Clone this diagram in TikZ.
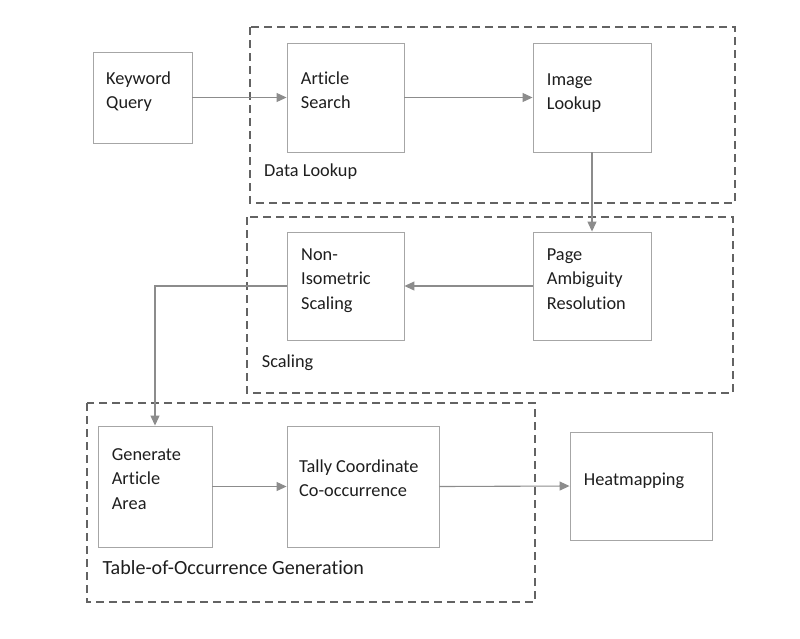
\documentclass[tikz,border=0pt]{standalone}
\usepackage{fontspec}
\setmainfont{Carlito}[Ligatures={NoCommon}]
\usetikzlibrary{arrows.meta}
\definecolor{boxgray}{HTML}{A6A6A6}
\definecolor{dashgray}{HTML}{636363}
\definecolor{arrgray}{HTML}{8C8C8C}
\definecolor{txtgray}{HTML}{1E1E1E}
\newcommand{\mylines}[1]{\begin{tabular}[t]{@{}l@{}}#1\end{tabular}}
\tikzset{
  procbox/.style={draw=boxgray, line width=0.9pt, fill=white},
  groupbox/.style={draw=dashgray, line width=1.8pt, dash pattern=on 8pt off 5pt},
  lbl/.style={anchor=base west, inner sep=0pt, text=txtgray, font=\fontsize{18.3}{24.5}\selectfont},
  conn/.style={draw=arrgray, line width=1.1pt, -{Triangle[length=10pt,width=9pt]}}
}
\begin{document}
\begin{tikzpicture}[x=1pt,y=-1pt]
\useasboundingbox (0,0) rectangle (800,638);
% group frames
\draw[groupbox] (250,27) rectangle (735,203);
\draw[groupbox] (247,217) rectangle (733,393);
\draw[groupbox] (87,403) rectangle (535,602);
% boxes
\node[procbox, minimum width=99pt, minimum height=91pt] (kq) at (142.5,97.5) {};
\node[procbox, minimum width=117pt, minimum height=109pt] (as) at (345.5,97.5) {};
\node[procbox, minimum width=118pt, minimum height=109pt] (il) at (592,97.5) {};
\node[procbox, minimum width=117pt, minimum height=108pt] (na) at (345.5,286) {};
\node[procbox, minimum width=118pt, minimum height=108pt] (pa) at (592,286) {};
\node[procbox, minimum width=114pt, minimum height=121pt] (ga) at (155,486.5) {};
\node[procbox, minimum width=152pt, minimum height=121pt] (tc) at (363,486.5) {};
\node[procbox, minimum width=142pt, minimum height=108pt] (hm) at (641,486) {};
% texts
\node[lbl] (kqt) at (106,84) {\mylines{Keyword\\Query}};
\node[lbl] (ast) at (300.7,84.3) {\mylines{Article\\Search}};
\node[lbl] (ilt) at (546.7,85) {\mylines{Image\\Lookup}};
\node[lbl] (dlt) at (264,176) {Data Lookup};
\node[lbl] (nat) at (301,260) {\mylines{Non-\\Isometric\\Scaling}};
\node[lbl] (pat) at (546.7,260) {\mylines{Page\\Ambiguity\\Resolution}};
\node[lbl] (sct) at (261.7,367) {Scaling};
\node[lbl] (gat) at (111.7,460) {\mylines{Generate\\Article\\Area}};
\node[lbl] (tct) at (299,472) {\mylines{Tally Coordinate\\Co-occurrence}};
\node[lbl] (hmt) at (583.7,485) {Heatmapping};
\node[lbl, font=\fontsize{20.1}{24.5}\selectfont] (tot) at (102.3,574) {Table-of-Occurrence Generation};
% connectors
\draw[conn] (kq.east) -- (as.west);
\draw[conn] (as.east) -- (il.west);
\draw[conn] (il.south) -- (pa.north);
\draw[conn] (pa.west) -- (na.east);
\draw[conn] (na.west) -| (ga.north);
\draw[conn] (ga.east) -- (tc.west);
\draw[conn] (tc.east) -- (hm.west);
\end{tikzpicture}
\end{document}
